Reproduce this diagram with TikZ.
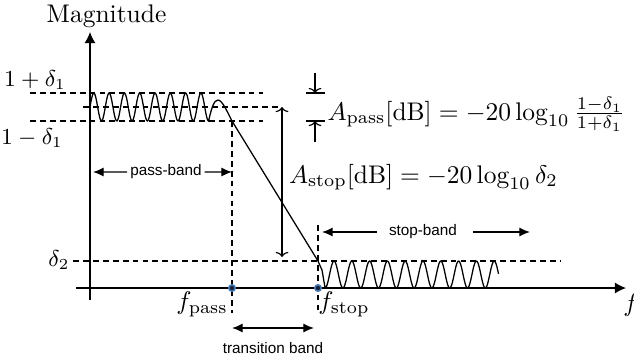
\documentclass[tikz,border=0pt]{standalone}
\usepackage{amsmath}
\usepackage{fontspec}
\setsansfont{Liberation Sans}
\usetikzlibrary{arrows.meta}
\definecolor{dotring}{RGB}{70,120,180}
\definecolor{dotcore}{RGB}{25,35,60}

\begin{document}
\begin{tikzpicture}[xscale=0.0138,yscale=0.0138,
    guide/.style={dash pattern=on 2.3pt off 1.6pt,line width=0.45pt},
    level/.style={font=\small},
    bandlabel/.style={font=\fontsize{6}{7}\selectfont\sffamily,inner sep=1pt},
    bandarrow/.style={line width=0.5pt,>={Latex[length=4.2pt,width=3.6pt]}},
    gaparrow/.style={line width=0.45pt,>={To[length=2pt,width=5pt]}}]
  \useasboundingbox (-90,-74) rectangle (544,288);
  % axes
  \draw[-{Latex[length=4.4pt,width=4.4pt]},line width=0.5pt] (-14,0) -- (536,0);
  \draw[-{Latex[length=4.4pt,width=4.4pt]},line width=0.5pt] (0,-12) -- (0,256);
  \node (mag) at (16.5,272) {Magnitude};
  \node (f) at (541,-17) {$f$};
  % tolerance levels
  \draw[guide] (-60,195) -- (173,195);
  \draw[guide] (-7,181) -- (190,181);
  \draw[guide] (-60,167) -- (173,167);
  \draw[guide] (-17,27) -- (470,27);
  \node[level] (dup) at (-55,208) {$1+\delta_1$};
  \node[level] (dlow) at (-58,150) {$1-\delta_1$};
  \node[level] (dtwo) at (-31,28) {$\delta_2$};
  % band edges
  \draw[guide] (142,167) -- (142,-25);
  \draw[guide] (228,63) -- (228,-25);
  \node (fpass) at (112,-16) {$f_{\mathrm{pass}}$};
  \node (fstop) at (254,-16) {$f_{\mathrm{stop}}$};
  % response
  \draw[line width=0.5pt] plot[domain=0:118.6,samples=150] (\x,{181+14*sin(\x/15.3*360)})
    .. controls (121.5,180) and (124,188) .. (128,188)
    .. controls (132,188) and (137,177) .. (142,167) -- (228,27) -- (232,18)
    -- plot[domain=235.1:408.5,samples=220] (\x,{13.5+13.5*cos((\x-244)/17.8*360)});
  \filldraw[fill=dotcore,draw=dotring,line width=0.6pt] (142,0) circle[radius=3.2];
  \filldraw[fill=dotcore,draw=dotring,line width=0.6pt] (228,0) circle[radius=3.2];
  % attenuations
  \draw[gaparrow,<->] (192,181) -- (192,31);
  \draw[gaparrow,->] (225,215) -- (225,195);
  \draw[line width=0.45pt] (216,195) -- (235,195);
  \draw[gaparrow,->] (225,146) -- (225,167);
  \draw[line width=0.45pt] (216,167) -- (235,167);
  \node[anchor=base west,inner sep=0] (apass) at (237,168)
    {$A_{\mathrm{pass}}[\mathrm{dB}] = -20\log_{10}\tfrac{1-\delta_1}{1+\delta_1}$};
  \node[anchor=base west,inner sep=0] (astop) at (198.5,105)
    {$A_{\mathrm{stop}}[\mathrm{dB}] = -20\log_{10}\delta_2$};
  % bands
  \node[bandlabel] (pass) at (76,116) {pass-band};
  \draw[bandarrow,->] (pass.west) -- (3,116);
  \draw[bandarrow,->] (pass.east) -- (142,116);
  \node[bandlabel] (stop) at (333,56) {stop-band};
  \draw[bandarrow,->] (287,56) -- (232,56);
  \draw[bandarrow,->] (383,56) -- (440,56);
  \node[bandlabel] (trans) at (183,-60) {transition band};
  \draw[bandarrow,<->] (142,-40) -- (224,-40);
\end{tikzpicture}
\end{document}
